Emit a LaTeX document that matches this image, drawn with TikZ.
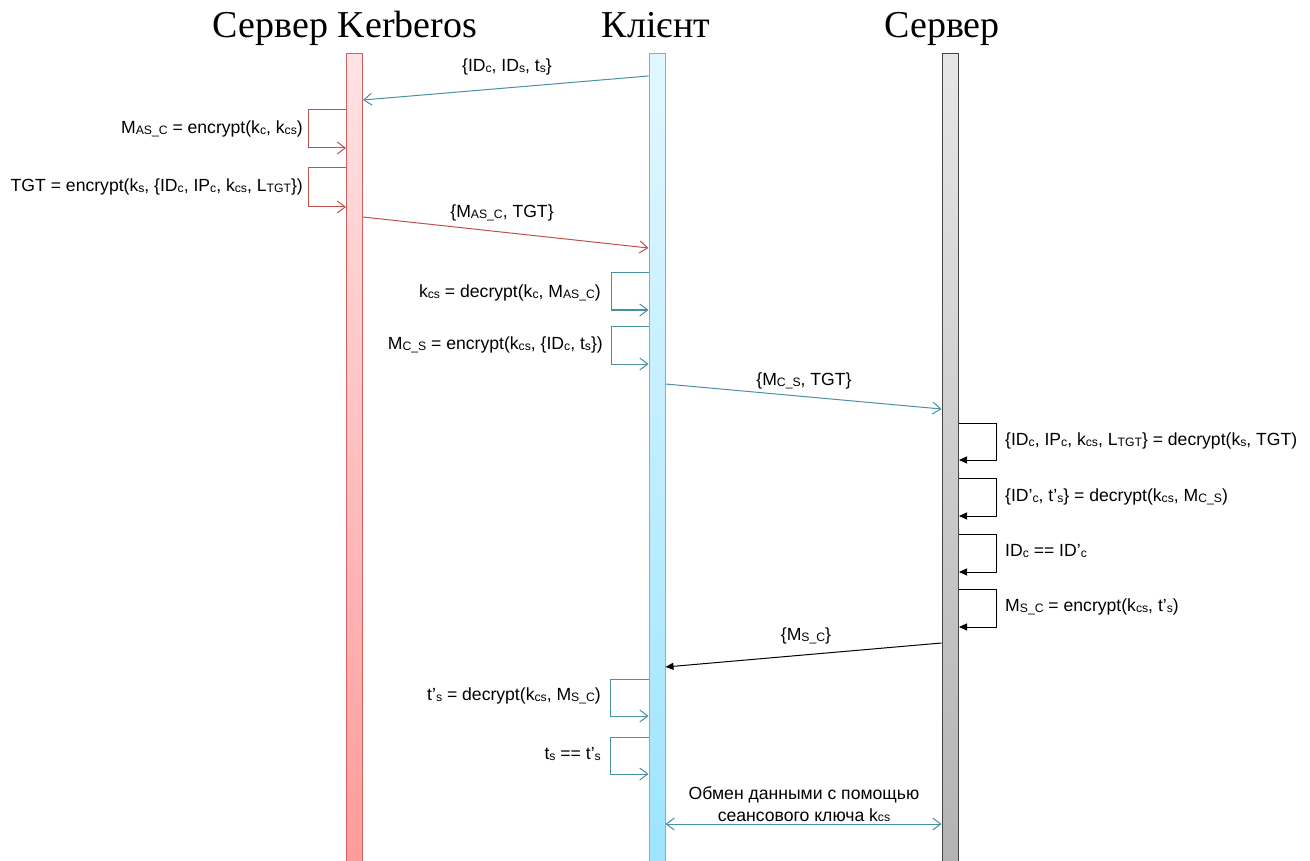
\documentclass[tikz,border=0pt]{standalone}
\usepackage{fontspec}
\setmainfont{Liberation Sans}
\newfontfamily\hdrfont{Liberation Serif}
\usetikzlibrary{arrows.meta}
\newcommand{\lo}[1]{\raisebox{-0.6pt}{\fontsize{12.2}{12}\selectfont #1}}
\definecolor{redline}{HTML}{C0504D}
\definecolor{tealline}{HTML}{4A90A4}
\definecolor{kbtop}{HTML}{FFE3E3}
\definecolor{kbbot}{HTML}{FF9A9A}
\definecolor{kbdraw}{HTML}{D06262}
\definecolor{cltop}{HTML}{E2F7FF}
\definecolor{clbot}{HTML}{9DE4FF}
\definecolor{cldraw}{HTML}{6DB8CF}
\definecolor{svtop}{HTML}{E6E6E6}
\definecolor{svbot}{HTML}{B3B3B3}
\definecolor{svdraw}{HTML}{454545}
\tikzset{
  lbl/.style={font=\fontsize{17.6}{21}\selectfont, inner sep=0pt},
  hdr/.style={font=\hdrfont\fontsize{38}{40}\selectfont, inner sep=0pt, anchor=base},
  bar/.style={line width=1pt, minimum width=16pt, minimum height=812pt, inner sep=0pt, anchor=north west},
  redarr/.style={draw=redline, line width=1pt, -{Straight Barb[length=8pt,width=12pt]}},
  tealarr/.style={draw=tealline, line width=1pt, -{Straight Barb[length=8pt,width=12pt]}},
  blkarr/.style={draw=black, line width=1pt, -{Triangle[length=8pt,width=7pt]}},
  bothteal/.style={draw=tealline, line width=1pt, {Straight Barb[length=8pt,width=12pt]}-{Straight Barb[length=8pt,width=12pt]}}
}
\begin{document}
\begin{tikzpicture}[x=1pt,y=-1pt]
\useasboundingbox (0,0) rectangle (1310,861);
\fill[white] (0,0) rectangle (1310,861);
% headers
\node[hdr] (hk) at (345,38) {Сервер Kerberos};
\node[hdr] (hc) at (656,38) {Клієнт};
\node[hdr] (hs) at (942,38) {Сервер};
% lifelines
\node[bar, draw=kbdraw, top color=kbtop, bottom color=kbbot] (kb) at (346,53) {};
\node[bar, draw=cldraw, top color=cltop, bottom color=clbot] (cb) at (648.5,53) {};
\node[bar, draw=svdraw, line width=1.5pt, top color=svtop, bottom color=svbot] (sb) at (941.5,53) {};
% message 1
\draw[tealarr] (cb.west |- 0,76) -- (kb.east |- 0,100);
\node[lbl] (l1) at (507,67) {\{ID\lo{c}, ID\lo{s}, t\lo{s}\}};
% Kerberos loops
\draw[redarr] (kb.west |- 0,110) -- ++(-38,0) -- ++(0,38) -- (kb.west |- 0,148);
\node[lbl, anchor=east] (l2) at (303,129) {M\lo{AS\_C} = encrypt(k\lo{c}, k\lo{cs})};
\draw[redarr] (kb.west |- 0,168) -- ++(-38,0) -- ++(0,39) -- (kb.west |- 0,207);
\node[lbl, anchor=east] (l3) at (303,187) {TGT = encrypt(k\lo{s}, \{ID\lo{c}, IP\lo{c}, k\lo{cs}, L\lo{TGT}\})};
% message 2
\draw[redarr] (kb.east |- 0,217) -- (cb.west |- 0,248);
\node[lbl] (l4) at (502,213) {\{M\lo{AS\_C}, TGT\}};
% client loops
\draw[tealarr] (cb.west |- 0,273) -- ++(-37,0) -- ++(0,37) -- (cb.west |- 0,310);
\node[lbl, anchor=east] (l5) at (601,293) {k\lo{cs} = decrypt(k\lo{c}, M\lo{AS\_C})};
\draw[tealarr] (cb.west |- 0,326) -- ++(-37,0) -- ++(0,38) -- (cb.west |- 0,364);
\node[lbl, anchor=east] (l6) at (603,345) {M\lo{C\_S} = encrypt(k\lo{cs}, \{ID\lo{c}, t\lo{s}\})};
% message 3
\draw[tealarr] (cb.east |- 0,384) -- (sb.west |- 0,409);
\node[lbl] (l7) at (804,381) {\{M\lo{C\_S}, TGT\}};
% server loops
\draw[blkarr] (sb.east |- 0,423) -- ++(37,0) -- ++(0,37) -- (sb.east |- 0,460);
\node[lbl, anchor=west] (l8) at (1005,441) {\{ID\lo{c}, IP\lo{c}, k\lo{cs}, L\lo{TGT}\} = decrypt(k\lo{s}, TGT)};
\draw[blkarr] (sb.east |- 0,478) -- ++(37,0) -- ++(0,38) -- (sb.east |- 0,516);
\node[lbl, anchor=west] (l9) at (1005,497) {\{ID’\lo{c}, t’\lo{s}\} = decrypt(k\lo{cs}, M\lo{C\_S})};
\draw[blkarr] (sb.east |- 0,534) -- ++(37,0) -- ++(0,38) -- (sb.east |- 0,572);
\node[lbl, anchor=west] (l10) at (1005,551) {ID\lo{c} == ID’\lo{c}};
\draw[blkarr] (sb.east |- 0,589) -- ++(37,0) -- ++(0,38) -- (sb.east |- 0,627);
\node[lbl, anchor=west] (l11) at (1005,607) {M\lo{S\_C} = encrypt(k\lo{cs}, t’\lo{s})};
% message 4
\draw[blkarr] (sb.west |- 0,643) -- (cb.east |- 0,667);
\node[lbl] (l12) at (806,636) {\{M\lo{S\_C}\}};
% client loops 2
\draw[tealarr] (cb.west |- 0,679) -- ++(-38,0) -- ++(0,37) -- (cb.west |- 0,716);
\node[lbl, anchor=east] (l13) at (601,696) {t'\lo{s} = decrypt(k\lo{cs}, M\lo{S\_C})};
\draw[tealarr] (cb.west |- 0,737) -- ++(-38,0) -- ++(0,37) -- (cb.west |- 0,774);
\node[lbl, anchor=east] (l14) at (601,754) {t\lo{s} == t'\lo{s}};
% session exchange
\draw[bothteal] (cb.east |- 0,824) -- (sb.west |- 0,824);
\node[lbl, align=center, font=\fontsize{17.6}{22}\selectfont] (l15) at (804,804) {Обмен данными с помощью\\сеансового ключа k\lo{cs}};
\end{tikzpicture}
\end{document}
